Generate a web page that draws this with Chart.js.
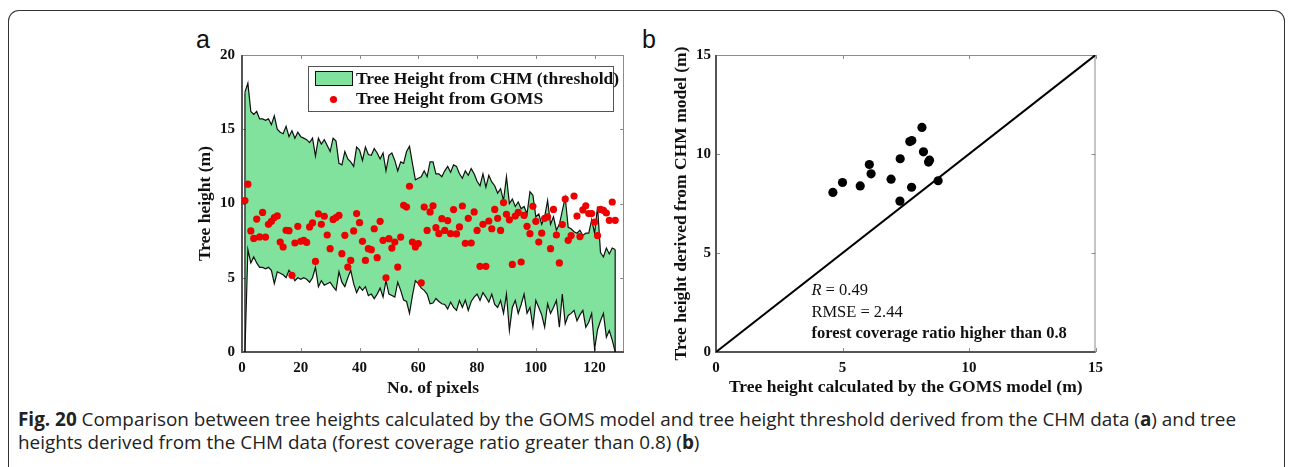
<!DOCTYPE html>
<html>
<head>
<meta charset="utf-8">
<script src="https://cdn.jsdelivr.net/npm/chart.js@4.4.1/dist/chart.umd.min.js"></script>
<style>
  html, body { margin: 0; padding: 0; background: #fff; }
  body { width: 1292px; height: 467px; position: relative; overflow: hidden; }
  .frame {
    position: absolute; left: 8px; top: 10px; width: 1277px; height: 470px;
    border: 1.5px solid #333; border-bottom: none; border-radius: 11px 11px 0 0;
    box-sizing: border-box;
  }
  .panel {
    position: absolute; font-family: "Liberation Sans", Arial, sans-serif;
    font-size: 25px; line-height: 1; color: #111;
  }
  #cvA { position: absolute; left: 150px; top: 0; }
  #cvB { position: absolute; left: 640px; top: 0; }
  .caption {
    position: absolute; left: 18px; top: 408px;
    font-family: "Open Sans", sans-serif; font-size: 18.9px; line-height: 23px;
    color: #222; white-space: nowrap;
  }
</style>
</head>
<body>
<div class="frame"></div>
<div class="panel" style="left:196px; top:27px;">a</div>
<div class="panel" style="left:642px; top:27px;">b</div>
<canvas id="cvA" width="490" height="400"></canvas>
<canvas id="cvB" width="470" height="400"></canvas>
<div class="caption"><b>Fig. 20</b> Comparison between tree heights calculated by the GOMS model and tree height threshold derived from the CHM data (<b>a</b>) and tree<br>heights derived from the CHM data (forest coverage ratio greater than 0.8) (<b>b</b>)</div>

<script>
// ---- panel a: CHM threshold envelope (pixels 1..127) and GOMS heights ----
const chmUpper = [
  17.5, 18.1, 16.2, 16.0, 16.2, 15.7, 15.7, 15.6, 15.7, 15.3,
  15.9, 15.0, 14.8, 14.7, 15.2, 14.5, 14.9, 14.4, 14.8, 14.5,
  14.4, 14.3, 14.1, 14.4, 13.2, 14.4, 14.0, 14.3, 13.9, 13.5,
  14.4, 14.2, 12.7, 12.6, 13.5, 13.0, 12.8, 12.5, 13.8, 13.6,
  12.9, 13.8, 13.3, 13.25, 13.7, 13.4, 13.0, 13.4, 12.2, 13.25,
  13.4, 12.9, 12.2, 12.8, 12.7, 13.5, 13.85, 12.7, 11.6, 11.7,
  11.8, 12.2, 11.8, 12.8, 12.8, 12.0, 12.0, 11.8, 12.2, 12.5,
  12.1, 12.6, 12.5, 12.0, 11.7, 12.2, 11.9, 12.35, 12.0, 11.5,
  11.2, 12.0, 11.1, 11.9, 11.45, 11.2, 10.7, 11.0, 10.2, 11.8,
  10.0, 10.3, 9.8, 10.1, 9.65, 9.8, 9.3, 10.8, 10.55, 9.1,
  9.3, 8.6, 9.1, 10.2, 8.6, 9.1, 8.2, 8.6, 9.5, 10.4,
  8.4, 8.3, 8.1, 8.0, 8.2, 7.85, 8.0, 8.0, 8.9, 8.0,
  9.8, 6.7, 6.4, 7.0, 6.6, 7.0, 6.9
];
const chmLower = [
  0, 6.9, 6.0, 6.4, 6.0, 5.7, 5.7, 5.6, 5.7, 5.5,
  4.6, 5.4, 5.3, 5.2, 5.0, 5.5, 5.2, 4.8, 5.0, 4.9,
  5.0, 4.9, 4.7, 5.0, 5.7, 4.4, 4.8, 4.5, 4.6, 4.7,
  4.4, 4.15, 5.4, 4.7, 4.4, 5.0, 5.5, 4.6, 4.0, 4.4,
  4.15, 4.4, 3.8, 3.9, 3.6, 3.9, 4.3, 3.7, 4.8, 3.9,
  3.8, 3.7, 4.7, 4.15, 3.5, 3.4, 2.6, 3.8, 4.8, 4.6,
  4.3, 4.15, 3.9, 3.25, 3.3, 3.6, 3.4, 3.25, 3.2, 2.9,
  3.36, 3.0, 2.8, 3.47, 3.0, 3.5, 2.8, 3.4, 3.7, 3.9,
  3.47, 4.0, 3.7, 3.36, 3.9, 3.2, 3.0, 3.47, 2.6, 3.9,
  1.45, 3.0, 3.47, 2.6, 3.2, 3.9, 2.6, 3.0, 1.7, 3.47,
  3.0, 2.5, 1.67, 3.25, 2.6, 3.0, 3.47, 1.67, 3.9, 1.9,
  2.46, 2.6, 2.8, 2.1, 2.5, 2.8, 1.67, 2.0, 2.6, 0.2,
  1.5, 2.1, 2.6, 1.0, 1.45, 0.8, 0
];
const gomsHeight = [
  10.2, 11.3, 8.15, 7.65, 8.95, 7.75, 9.4, 7.74, 8.6, 8.8,
  9.05, 9.16, 7.4, 7.07, 8.2, 8.17, 5.16, 7.34, 8.46, 7.45,
  7.52, 7.38, 8.42, 8.69, 6.1, 9.3, 8.6, 9.14, 7.88, 6.96,
  8.93, 9.05, 9.2, 6.62, 7.86, 5.72, 6.17, 8.15, 9.32, 8.71,
  7.45, 6.17, 6.96, 6.89, 8.3, 6.35, 8.8, 7.52, 5.0, 7.63,
  7.0, 7.4, 5.72, 7.74, 9.88, 9.76, 11.16, 7.4, 7.07, 7.3,
  4.66, 9.76, 8.19, 9.43, 9.85, 8.37, 7.97, 8.98, 8.19, 8.85,
  7.97, 9.59, 7.95, 8.42, 9.83, 7.32, 9.0, 7.34, 9.43, 8.19,
  5.77, 8.6, 5.77, 8.82, 8.3, 9.6, 9.0, 8.19, 10.06, 9.27,
  8.9, 5.9, 9.15, 9.4, 6.06, 9.2, 8.46, 7.97, 9.81, 8.8,
  7.4, 8.0, 9.0, 9.1, 6.96, 9.6, 7.88, 6.0, 8.58, 10.3,
  7.52, 7.84, 10.5, 9.15, 7.77, 9.57, 9.85, 9.32, 9.32, 8.75,
  7.84, 9.6, 9.54, 9.36, 8.87, 10.1, 8.87
];
const ticksAx = [0, 20, 40, 60, 80, 100, 120];
const ticksAy = [0, 5, 10, 15, 20];

// ---- panel b: GOMS vs CHM, forest coverage > 0.8 ----
const gomsModel = [4.62, 5.0, 5.7, 6.06, 6.13, 6.92, 7.28, 7.27, 7.66, 7.74, 7.73, 8.14, 8.2, 8.4, 8.44, 8.78];
const chmModel  = [8.06, 8.56, 8.39, 9.47, 9.0, 8.73, 9.76, 7.62, 10.63, 10.68, 8.32, 11.34, 10.11, 9.59, 9.69, 8.65];
const oneToOne = [0, 15];
const ticksB = [0, 5, 10, 15];

const GREEN = 'rgb(128,226,156)';
const RED = 'rgb(236,0,0)';
const INK = '#111';
const SERIF = '"Liberation Serif", "Times New Roman", serif';

Chart.defaults.font.family = SERIF;
Chart.defaults.color = INK;

const pixelNo = chmUpper.map((_, k) => k + 1);
const pts = (xs, ys) => xs.map((x, k) => ({ x, y: ys[k] }));

// MATLAB-style box with inward ticks
const axesBox = {
  id: 'axesBox',
  beforeDatasetsDraw(chart) {
    const { ctx, chartArea: a, scales: { x, y } } = chart;
    ctx.save();
    ctx.strokeStyle = '#8c8c8c';
    ctx.lineWidth = 1;
    ctx.beginPath();
    ctx.moveTo(a.left, a.top + 0.5); ctx.lineTo(a.right, a.top + 0.5);
    ctx.moveTo(a.right - 0.5, a.top); ctx.lineTo(a.right - 0.5, a.bottom);
    x.ticks.forEach(t => {
      const p = Math.round(x.getPixelForValue(t.value)) + 0.5;
      ctx.moveTo(p, a.bottom); ctx.lineTo(p, a.bottom - 4);
      ctx.moveTo(p, a.top); ctx.lineTo(p, a.top + 4);
    });
    y.ticks.forEach(t => {
      const p = Math.round(y.getPixelForValue(t.value)) + 0.5;
      ctx.moveTo(a.left, p); ctx.lineTo(a.left + 4, p);
      ctx.moveTo(a.right, p); ctx.lineTo(a.right - 4, p);
    });
    ctx.stroke();
    ctx.strokeStyle = '#555';
    ctx.lineWidth = 2;
    ctx.beginPath();
    ctx.moveTo(a.left, a.top); ctx.lineTo(a.left, a.bottom); ctx.lineTo(a.right, a.bottom);
    ctx.stroke();
    ctx.restore();
  }
};

const legendA = {
  id: 'legendA',
  afterDraw(chart) {
    const { ctx, chartArea: a } = chart;
    const bx = a.left + 66, by = a.top + 11, bw = 305, bh = 45;
    ctx.save();
    ctx.fillStyle = '#fff';
    ctx.fillRect(bx, by, bw, bh);
    ctx.strokeStyle = '#555';
    ctx.lineWidth = 1;
    ctx.strokeRect(bx + 0.5, by + 0.5, bw, bh);
    ctx.fillStyle = GREEN;
    ctx.fillRect(bx + 7, by + 5, 37, 14);
    ctx.strokeStyle = INK;
    ctx.strokeRect(bx + 7.5, by + 5.5, 37, 14);
    ctx.fillStyle = RED;
    ctx.beginPath();
    ctx.arc(bx + 25.5, by + 33.5, 3.6, 0, Math.PI * 2);
    ctx.fill();
    ctx.fillStyle = INK;
    ctx.font = 'bold 17.5px ' + SERIF;
    ctx.textBaseline = 'middle';
    ctx.fillText('Tree Height from CHM (threshold)', bx + 48, by + 13.5);
    ctx.fillText('Tree Height from GOMS', bx + 48, by + 33.5);
    ctx.restore();
  }
};

const statsB = {
  id: 'statsB',
  afterDraw(chart) {
    const { ctx, chartArea: a, scales: { x } } = chart;
    const left = x.getPixelForValue(3.77);
    ctx.save();
    ctx.fillStyle = INK;
    ctx.textBaseline = 'middle';
    ctx.font = 'italic 16.5px ' + SERIF;
    ctx.fillText('R', left, a.bottom - 61);
    const w = ctx.measureText('R').width;
    ctx.font = '16.5px ' + SERIF;
    ctx.fillText(' = 0.49', left + w, a.bottom - 61);
    ctx.fillText('RMSE = 2.44', left, a.bottom - 39.5);
    ctx.font = 'bold 16.5px ' + SERIF;
    ctx.fillText('forest coverage ratio higher than 0.8', left, a.bottom - 18.5);
    ctx.restore();
  }
};

const tickFont = { family: SERIF, size: 15, weight: 'bold' };
const titleFont = { family: SERIF, size: 17.5, weight: 'bold' };
const fixed = (list) => (s) => { s.ticks = list.map(v => ({ value: v })); };

new Chart(document.getElementById('cvA'), {
  type: 'scatter',
  data: {
    datasets: [
      {
        label: 'Tree Height from GOMS',
        data: pts(pixelNo, gomsHeight),
        backgroundColor: RED,
        borderWidth: 0,
        pointRadius: 3.6,
      },
      {
        type: 'line',
        label: 'Tree Height from CHM (threshold)',
        data: pts(pixelNo, chmUpper),
        borderColor: INK,
        borderWidth: 1.2,
        backgroundColor: GREEN,
        pointRadius: 0,
        tension: 0,
        fill: '+1',
      },
      {
        type: 'line',
        data: pts(pixelNo, chmLower),
        borderColor: INK,
        borderWidth: 1.2,
        pointRadius: 0,
        tension: 0,
        fill: false,
      },
      {
        type: 'line',
        data: [
          { x: pixelNo[0], y: chmUpper[0] },
          { x: pixelNo[0], y: chmLower[0] },
        ],
        borderColor: INK,
        borderWidth: 1.2,
        pointRadius: 0,
      },
      {
        type: 'line',
        data: [
          { x: pixelNo[pixelNo.length - 1], y: chmUpper[chmUpper.length - 1] },
          { x: pixelNo[pixelNo.length - 1], y: chmLower[chmLower.length - 1] },
        ],
        borderColor: INK,
        borderWidth: 1.2,
        pointRadius: 0,
      },
    ],
  },
  options: {
    responsive: false,
    animation: false,
    events: [],
    layout: { padding: { top: 55, right: 16, bottom: 0, left: 0 } },
    plugins: {
      legend: { display: false },
      tooltip: { enabled: false },
      filler: { drawTime: 'beforeDatasetsDraw' },
    },
    scales: {
      x: {
        type: 'linear',
        min: 0,
        max: 130,
        afterBuildTicks: fixed(ticksAx),
        afterFit: (s) => { s.height = 48; },
        grid: { display: false, drawTicks: false },
        border: { display: false },
        ticks: { padding: 7, font: tickFont, color: INK },
        title: { display: true, text: 'No. of pixels', font: titleFont, color: INK, padding: { top: 0, bottom: 1 } },
      },
      y: {
        type: 'linear',
        min: 0,
        max: 20,
        afterBuildTicks: fixed(ticksAy),
        afterFit: (s) => { s.width = 92; },
        grid: { display: false, drawTicks: false },
        border: { display: false },
        ticks: { padding: 7, font: tickFont, color: INK },
        title: { display: true, text: 'Tree height (m)', font: titleFont, color: INK, padding: { top: 45, bottom: 0 } },
      },
    },
  },
  plugins: [axesBox, legendA],
});

new Chart(document.getElementById('cvB'), {
  type: 'scatter',
  data: {
    datasets: [
      {
        label: 'forest coverage ratio higher than 0.8',
        data: pts(gomsModel, chmModel),
        backgroundColor: '#000',
        borderWidth: 0,
        pointRadius: 4.6,
      },
      {
        type: 'line',
        label: '1:1',
        data: pts(oneToOne, oneToOne),
        borderColor: '#000',
        borderWidth: 2,
        pointRadius: 0,
        fill: false,
      },
    ],
  },
  options: {
    responsive: false,
    animation: false,
    events: [],
    layout: { padding: { top: 55, right: 13, bottom: 0, left: 0 } },
    plugins: {
      legend: { display: false },
      tooltip: { enabled: false },
    },
    scales: {
      x: {
        type: 'linear',
        min: 0,
        max: 15,
        afterBuildTicks: fixed(ticksB),
        afterFit: (s) => { s.height = 48; },
        grid: { display: false, drawTicks: false },
        border: { display: false },
        ticks: { padding: 7, font: tickFont, color: INK },
        title: { display: true, text: 'Tree height calculated by the GOMS model (m)', font: titleFont, color: INK, padding: { top: 0, bottom: 2 } },
      },
      y: {
        type: 'linear',
        min: 0,
        max: 15,
        afterBuildTicks: fixed(ticksB),
        afterFit: (s) => { s.width = 76; },
        grid: { display: false, drawTicks: false },
        border: { display: false },
        ticks: { padding: 5, font: tickFont, color: INK },
        title: { display: true, text: 'Tree height derived from CHM model (m)', font: titleFont, color: INK, padding: { top: 31, bottom: 0 } },
      },
    },
  },
  plugins: [axesBox, statsB],
});
</script>
</body>
</html>
